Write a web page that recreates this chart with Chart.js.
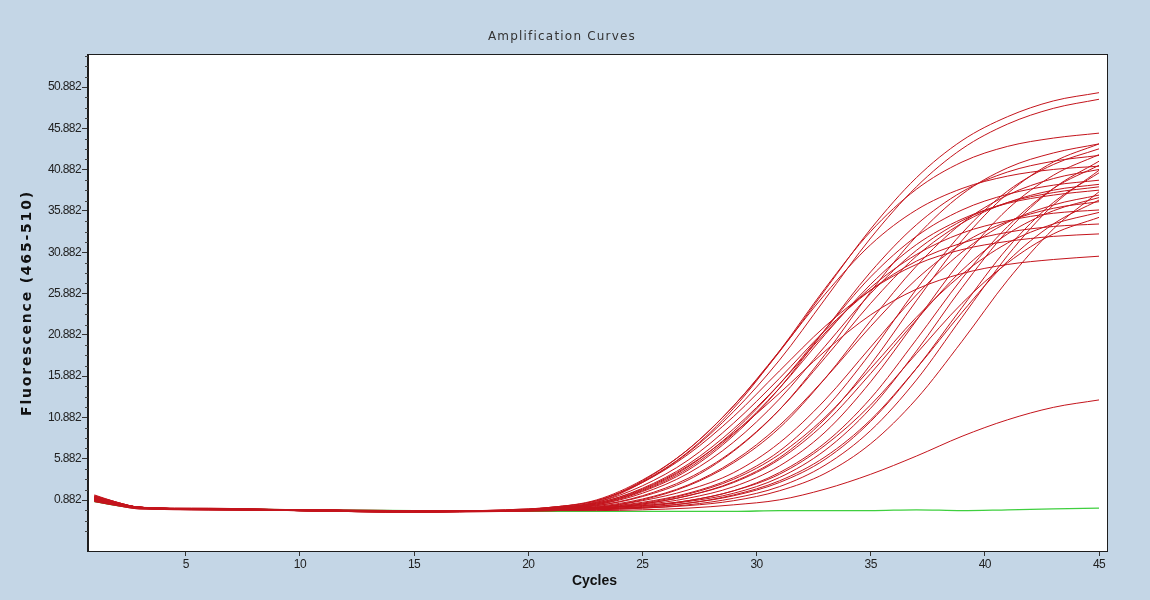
<!DOCTYPE html>
<html>
<head>
<meta charset="utf-8">
<title>Amplification Curves</title>
<script src="https://cdn.jsdelivr.net/npm/chart.js@4.4.0/dist/chart.umd.min.js"></script>
<style>
  html, body { margin: 0; padding: 0; background: #c4d6e6; }
</style>
</head>
<body>
<canvas id="amp" width="1150" height="600"></canvas>
<script>
const cycles = [1, 2, 3, 6, 10, 15, 19, 21, 23, 25, 27, 29, 31, 33, 35, 37, 39, 41, 43, 45];

const xTicks = [5, 10, 15, 20, 25, 30, 35, 40, 45];
const yTicks = [0.882, 5.882, 10.882, 15.882, 20.882, 25.882, 30.882, 35.882, 40.882, 45.882, 50.882];

const chartTitle = 'Amplification Curves';
const yTitle = 'Fluorescence (465-510)';
const xTitle = 'Cycles';

// red = amplified samples, one array per well
const w01 = [1.4, 0.6, 0.0, -0.2, -0.3, -0.4, -0.4, -0.1, 0.7, 3.2, 7.0, 12.3, 18.8, 26.3, 33.7, 39.9, 44.4, 47.3, 49.2, 50.2];
const w02 = [1.2, 0.5, 0.0, -0.2, -0.3, -0.4, -0.4, -0.1, 0.6, 3.0, 6.6, 11.6, 17.8, 25.2, 32.6, 38.8, 43.4, 46.4, 48.3, 49.4];
const w03 = [1.0, 0.4, -0.1, -0.2, -0.4, -0.5, -0.4, -0.1, 0.5, 2.2, 5.0, 9.0, 13.8, 18.9, 23.3, 26.4, 28.3, 29.4, 30.0, 30.4];
const w04 = [0.8, 0.3, -0.1, -0.3, -0.4, -0.5, -0.4, 0.0, 0.8, 3.0, 6.4, 11.0, 16.5, 21.9, 26.3, 29.4, 31.2, 32.2, 32.8, 33.1];
const w05 = [1.3, 0.5, 0.0, -0.2, -0.3, -0.5, -0.4, -0.1, 0.6, 2.6, 5.7, 10.2, 15.6, 21.4, 26.3, 29.8, 32.0, 33.3, 34.0, 34.3];
const w06 = [0.9, 0.3, -0.1, -0.2, -0.4, -0.6, -0.3, 0.0, 0.9, 3.3, 7.0, 12.3, 18.9, 25.8, 31.8, 36.0, 38.6, 40.1, 40.9, 41.3];
const w07 = [1.1, 0.4, 0.0, -0.1, -0.3, -0.4, -0.4, -0.1, 0.5, 2.3, 5.2, 9.5, 14.9, 21.1, 26.6, 30.6, 33.2, 34.7, 35.6, 36.0];
const w08 = [1.5, 0.6, 0.0, -0.2, -0.3, -0.5, -0.3, 0.0, 0.8, 3.1, 6.7, 12.0, 18.9, 26.5, 33.4, 38.5, 41.8, 43.7, 44.7, 45.3];
const w09 = [0.7, 0.2, -0.2, -0.3, -0.4, -0.5, -0.4, -0.1, 0.4, 2.1, 4.9, 9.2, 14.9, 21.5, 27.9, 32.8, 36.0, 37.9, 39.0, 39.6];
const w10 = [1.0, 0.4, 0.0, -0.2, -0.3, -0.5, -0.4, -0.2, 0.3, 1.9, 4.5, 8.7, 14.4, 21.5, 28.5, 34.2, 38.2, 40.6, 41.9, 42.6];
const w11 = [1.2, 0.5, 0.0, -0.2, -0.4, -0.5, -0.4, -0.2, 0.2, 1.4, 3.5, 6.9, 11.8, 18.1, 24.7, 30.4, 34.4, 36.9, 38.4, 39.1];
const w12 = [0.8, 0.3, -0.1, -0.2, -0.3, -0.5, -0.4, -0.2, 0.2, 1.3, 3.3, 6.8, 11.8, 18.5, 26.1, 32.8, 37.9, 41.1, 42.9, 44.0];
const w13 = [1.1, 0.4, 0.0, -0.2, -0.4, -0.6, -0.4, -0.3, 0.1, 1.0, 2.7, 5.6, 9.9, 15.6, 21.9, 27.6, 31.9, 34.6, 36.2, 37.0];
const w14 = [0.9, 0.3, -0.1, -0.2, -0.3, -0.5, -0.4, -0.3, 0.0, 0.9, 2.6, 5.4, 9.6, 15.6, 22.6, 29.2, 34.4, 37.8, 39.8, 40.9];
const w15 = [1.3, 0.5, 0.0, -0.2, -0.4, -0.5, -0.4, -0.3, 0.0, 0.8, 2.1, 4.2, 7.8, 13.0, 19.4, 25.7, 30.9, 34.5, 36.6, 37.8];
const w16 = [1.0, 0.4, -0.1, -0.3, -0.4, -0.6, -0.5, -0.3, 0.0, 0.5, 1.6, 3.4, 6.4, 10.9, 16.8, 23.0, 28.2, 32.0, 34.3, 35.7];
const w17 = [0.8, 0.3, -0.1, -0.2, -0.3, -0.5, -0.4, -0.3, -0.1, 0.4, 1.4, 3.0, 5.8, 10.2, 16.2, 22.7, 28.7, 33.1, 35.9, 37.5];
const w18 = [1.4, 0.6, 0.0, -0.2, -0.3, -0.4, -0.4, -0.3, -0.1, 0.4, 1.4, 3.1, 6.0, 10.7, 17.3, 25.0, 32.3, 38.0, 41.8, 44.0];
const w19 = [1.0, 0.4, -0.1, -0.2, -0.4, -0.5, -0.4, -0.3, -0.1, 0.3, 1.1, 2.5, 5.0, 9.1, 15.2, 22.6, 30.0, 36.1, 40.2, 42.7];
const w20 = [1.2, 0.5, 0.0, -0.2, -0.3, -0.5, -0.4, -0.3, -0.1, 0.2, 0.8, 2.0, 4.0, 7.5, 12.4, 18.6, 24.7, 29.6, 33.1, 35.1];
const w21 = [0.9, 0.3, -0.1, -0.3, -0.4, -0.6, -0.4, -0.3, -0.1, 0.2, 0.8, 2.0, 4.2, 7.8, 13.2, 20.3, 27.7, 34.0, 38.6, 41.4];
const w22 = [1.1, 0.4, 0.0, -0.2, -0.3, -0.5, -0.4, -0.3, -0.2, 0.1, 0.7, 1.7, 3.6, 6.9, 12.0, 18.9, 26.6, 33.5, 38.6, 41.9];
const w23 = [0.7, 0.2, -0.2, -0.3, -0.4, -0.5, -0.4, -0.4, -0.2, 0.0, 0.5, 1.5, 3.2, 6.1, 10.6, 16.8, 23.6, 29.8, 34.3, 37.2];
const w24 = [1.3, 0.5, 0.0, -0.2, -0.4, -0.6, -0.4, -0.4, -0.2, 0.0, 0.5, 1.4, 3.0, 5.8, 10.4, 16.8, 24.2, 31.4, 36.9, 40.5];
const w25 = [1.0, 0.4, -0.1, -0.2, -0.3, -0.5, -0.4, -0.4, -0.3, -0.1, 0.3, 1.1, 2.5, 5.1, 9.3, 15.4, 23.0, 30.5, 36.6, 40.8];
const w26 = [0.8, 0.3, -0.1, -0.2, -0.4, -0.5, -0.5, -0.4, -0.3, -0.1, 0.2, 0.8, 2.0, 4.1, 7.7, 13.1, 20.1, 27.5, 33.7, 38.2];
const w27 = [1.1, 0.4, 0.0, -0.2, -0.3, -0.5, -0.5, -0.4, -0.4, -0.3, -0.1, 0.3, 0.9, 2.2, 4.0, 6.2, 8.6, 10.6, 12.1, 13.0];
const w28 = [1.2, 0.5, 0.0, -0.2, -0.3, -0.5, -0.4, -0.1, 0.4, 2.0, 4.7, 8.9, 14.4, 20.9, 27.0, 31.8, 34.9, 36.8, 37.8, 38.4];
const w29 = [0.9, 0.3, -0.1, -0.2, -0.4, -0.5, -0.4, -0.2, 0.3, 1.7, 4.1, 7.9, 13.1, 19.5, 25.9, 31.1, 34.7, 36.9, 38.1, 38.8];
const w30 = [1.0, 0.4, 0.0, -0.2, -0.3, -0.5, -0.4, -0.3, 0.0, 0.6, 1.7, 3.6, 6.8, 11.9, 18.7, 26.4, 33.2, 38.3, 41.5, 43.4];
const redWells = [w01, w02, w03, w04, w05, w06, w07, w08, w09, w10, w11, w12, w13, w14, w15,
                  w16, w17, w18, w19, w20, w21, w22, w23, w24, w25, w26, w27, w28, w29, w30];

// green = negative control
const negCtrl = [0.7, 0.2, -0.1, -0.2, -0.3, -0.4, -0.5, -0.5, -0.5, -0.5, -0.5, -0.5, -0.4, -0.4, -0.4, -0.3, -0.4, -0.3, -0.2, -0.1];

const BG = '#c4d6e6';

function toPoints(arr) {
  return cycles.map((c, i) => ({ x: c, y: arr[i] }));
}

const datasets = redWells.map((w, i) => ({
  label: 'Sample ' + (i + 1),
  data: toPoints(w),
  borderColor: '#c4141c',
  borderWidth: 1,
  order: 0
}));
datasets.push({
  label: 'Negative',
  data: toPoints(negCtrl),
  borderColor: '#3fcf3f',
  borderWidth: 1.3,
  order: 1
});

// white plot box with a black frame, blue page behind it, short minor ticks on y,
// plus the chart title and the axis titles
const plotFrame = {
  id: 'plotFrame',
  beforeDraw(chart) {
    const { ctx, chartArea: a } = chart;
    ctx.save();
    ctx.fillStyle = BG;
    ctx.fillRect(0, 0, chart.width, chart.height);
    ctx.fillStyle = '#ffffff';
    ctx.fillRect(a.left, a.top, a.right - a.left, a.bottom - a.top);
    ctx.restore();
    // tick labels in the original are set a little tighter
    ctx.letterSpacing = '-0.6px';
  },
  beforeDatasetsDraw(chart) {
    chart.ctx.letterSpacing = '0px';
  },
  afterDraw(chart) {
    const { ctx, chartArea: a } = chart;
    const ys = chart.scales.y;
    ctx.save();
    ctx.letterSpacing = '0px';
    ctx.strokeStyle = '#1e1e1e';
    ctx.lineWidth = 1;
    ctx.strokeRect(Math.round(a.left) - 0.5, Math.round(a.top) - 0.5,
                   Math.round(a.right - a.left) + 1, Math.round(a.bottom - a.top) + 1);
    ctx.strokeStyle = '#444';
    ctx.beginPath();
    for (let k = -4; k < 48; k++) {
      if (k % 4 === 0) continue;
      const v = yTicks[0] + k * 1.25;
      if (v < ys.min || v > ys.max) continue;
      const py = Math.round(ys.getPixelForValue(v)) + 0.5;
      ctx.moveTo(a.left - 3, py);
      ctx.lineTo(a.left, py);
    }
    ctx.stroke();

    ctx.textAlign = 'center';
    ctx.textBaseline = 'middle';

    // x axis title
    ctx.fillStyle = '#111';
    ctx.font = 'bold 14px "Liberation Sans"';
    ctx.fillText(xTitle, (a.left + a.right) / 2 - 3, 581);

    // title over the plot
    ctx.fillStyle = '#333';
    ctx.font = '12px "DejaVu Sans"';
    ctx.letterSpacing = '1.2px';
    ctx.fillText(chartTitle, 562, 37);

    // y axis title
    ctx.fillStyle = '#111';
    ctx.font = 'bold 14px "DejaVu Sans"';
    ctx.letterSpacing = '1.8px';
    ctx.translate(27, (a.top + a.bottom) / 2);
    ctx.rotate(-Math.PI / 2);
    ctx.fillText(yTitle, 0, 0);
    ctx.restore();
  }
};

const tickFont = { family: '"Liberation Sans", sans-serif', size: 12 };

new Chart(document.getElementById('amp'), {
  type: 'line',
  data: { datasets },
  options: {
    responsive: false,
    animation: false,
    devicePixelRatio: 1,
    layout: { padding: { left: 0, right: 43, top: 55, bottom: 0 } },
    elements: {
      point: { radius: 0 },
      line: { cubicInterpolationMode: 'monotone', fill: false }
    },
    plugins: {
      legend: { display: false },
      tooltip: { enabled: false },
      title: { display: false }
    },
    scales: {
      x: {
        type: 'linear',
        min: 0.72,
        max: 45.35,
        afterFit(scale) { scale.height = 49; },
        afterBuildTicks(scale) { scale.ticks = xTicks.map(v => ({ value: v })); },
        grid: { drawOnChartArea: false, drawTicks: true, tickLength: 5, color: '#333' },
        border: { display: true, color: '#1e1e1e' },
        ticks: {
          color: '#222',
          padding: 1,
          maxRotation: 0,
          font: tickFont,
          callback: v => String(v)
        },
        title: { display: false }
      },
      y: {
        type: 'linear',
        min: -5.29,
        max: 54.76,
        afterFit(scale) { scale.width = 88; },
        afterBuildTicks(scale) { scale.ticks = yTicks.map(v => ({ value: v })); },
        grid: { drawOnChartArea: false, drawTicks: true, tickLength: 6, color: '#333' },
        border: { display: true, color: '#1e1e1e' },
        ticks: {
          color: '#222',
          padding: 1,
          font: tickFont,
          callback: v => v.toFixed(3)
        },
        title: { display: false }
      }
    }
  },
  plugins: [plotFrame]
});
</script>
</body>
</html>
